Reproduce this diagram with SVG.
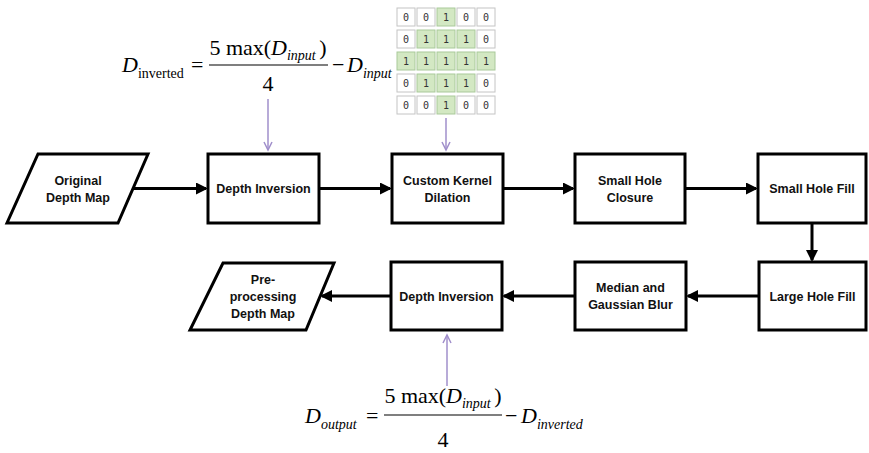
<svg xmlns="http://www.w3.org/2000/svg" width="869" height="453" viewBox="0 0 869 453">
<style>
.box{fill:#fff;stroke:#000;stroke-width:3}
.lbl{font-family:"Liberation Sans",Arial,sans-serif;font-weight:bold;font-size:12.5px;fill:#111;text-anchor:middle}
.conn{stroke:#000;stroke-width:3;fill:none}
.pconn{stroke:#a08fcb;stroke-width:1.5;fill:none}
.m{font-family:"Liberation Serif","Times New Roman",serif;font-size:22px;fill:#000}
.ms{font-size:14px}
.it{font-style:italic}
.cw{fill:#fff;stroke:#c4c4c4;stroke-width:1}
.cg{fill:#d3e8c3;stroke:#a9c99a;stroke-width:1}
.d{font-family:"DejaVu Sans Mono",monospace;font-size:10px;fill:#333;text-anchor:middle}
</style>
<defs>
<marker id="ah" markerUnits="userSpaceOnUse" markerWidth="12" markerHeight="12" refX="10" refY="6" orient="auto">
<path d="M0,0 L12,6 L0,12 z" fill="#000"/>
</marker>
<marker id="pah" markerUnits="userSpaceOnUse" markerWidth="12" markerHeight="12" refX="9" refY="5" orient="auto">
<path d="M1,1 L9,5 L1,9" fill="none" stroke="#a08fcb" stroke-width="1.5"/>
</marker>
</defs>

<g id="connectors">
<line class="conn" x1="133" y1="188.5" x2="206" y2="188.5" marker-end="url(#ah)"/>
<line class="conn" x1="319" y1="188.5" x2="390" y2="188.5" marker-end="url(#ah)"/>
<line class="conn" x1="503" y1="188.5" x2="573" y2="188.5" marker-end="url(#ah)"/>
<line class="conn" x1="685" y1="188.5" x2="756" y2="188.5" marker-end="url(#ah)"/>
<line class="conn" x1="812" y1="223" x2="812" y2="260" marker-end="url(#ah)"/>
<line class="conn" x1="759" y1="296" x2="688" y2="296" marker-end="url(#ah)"/>
<line class="conn" x1="575" y1="296" x2="504" y2="296" marker-end="url(#ah)"/>
<line class="conn" x1="391" y1="296" x2="322" y2="296" marker-end="url(#ah)"/>
<line class="pconn" x1="268" y1="99" x2="268" y2="150" marker-end="url(#pah)"/>
<line class="pconn" x1="446" y1="118" x2="446" y2="150" marker-end="url(#pah)"/>
<line class="pconn" x1="447" y1="386" x2="447" y2="335" marker-end="url(#pah)"/>
</g>

<g id="original">
<polygon class="box" points="38,154 148,154 118,223 7,223"/>
<text class="lbl" x="78" y="184.5">Original</text>
<text class="lbl" x="78" y="201.5">Depth Map</text>
</g>
<g id="depth-inversion-1">
<rect class="box" x="208" y="154" width="111" height="69"/>
<text class="lbl" x="263.5" y="193">Depth Inversion</text>
</g>
<g id="custom-kernel">
<rect class="box" x="392" y="154" width="111" height="69"/>
<text class="lbl" x="447.5" y="184.5">Custom Kernel</text>
<text class="lbl" x="447.5" y="201.5">Dilation</text>
</g>
<g id="small-hole-closure">
<rect class="box" x="575" y="154" width="110" height="69"/>
<text class="lbl" x="630" y="184.5">Small Hole</text>
<text class="lbl" x="630" y="201.5">Closure</text>
</g>
<g id="small-hole-fill">
<rect class="box" x="758" y="154" width="108" height="69"/>
<text class="lbl" x="812" y="193">Small Hole Fill</text>
</g>
<g id="large-hole-fill">
<rect class="box" x="759" y="262" width="107" height="68"/>
<text class="lbl" x="812.5" y="300.5">Large Hole Fill</text>
</g>
<g id="median-gaussian">
<rect class="box" x="575" y="262" width="111" height="68"/>
<text class="lbl" x="630.5" y="292">Median and</text>
<text class="lbl" x="630.5" y="309">Gaussian Blur</text>
</g>
<g id="depth-inversion-2">
<rect class="box" x="391" y="262" width="111" height="68"/>
<text class="lbl" x="446.5" y="300.5">Depth Inversion</text>
</g>
<g id="preprocessing">
<polygon class="box" points="223,263 334,263 306,330 190,330"/>
<text class="lbl" x="263" y="284">Pre-</text>
<text class="lbl" x="263" y="301">processing</text>
<text class="lbl" x="263" y="318">Depth Map</text>
</g>

<g id="formula-top">
<text class="m" x="122" y="72"><tspan class="it">D</tspan><tspan class="ms" dy="6">inverted</tspan></text>
<text class="m" x="191" y="72">=</text>
<text class="m" x="268" y="55" text-anchor="middle">5 max(<tspan class="it">D</tspan><tspan class="it ms" dy="5">input </tspan><tspan dy="-5">)</tspan></text>
<line x1="209" y1="65" x2="328" y2="65" stroke="#000" stroke-width="1.2"/>
<text class="m" x="268" y="91" text-anchor="middle">4</text>
<text class="m" x="332" y="72">−</text>
<text class="m" x="347" y="72"><tspan class="it">D</tspan><tspan class="it ms" dy="6">input</tspan></text>
</g>

<g id="kernel-grid">
<rect class="cw" x="397" y="8" width="18" height="18"/><text class="d" x="406" y="20.5">0</text>
<rect class="cw" x="417" y="8" width="18" height="18"/><text class="d" x="426" y="20.5">0</text>
<rect class="cg" x="437" y="8" width="18" height="18"/><text class="d" x="446" y="20.5">1</text>
<rect class="cw" x="457" y="8" width="18" height="18"/><text class="d" x="466" y="20.5">0</text>
<rect class="cw" x="477" y="8" width="18" height="18"/><text class="d" x="486" y="20.5">0</text>

<rect class="cw" x="397" y="30" width="18" height="18"/><text class="d" x="406" y="42.5">0</text>
<rect class="cg" x="417" y="30" width="18" height="18"/><text class="d" x="426" y="42.5">1</text>
<rect class="cg" x="437" y="30" width="18" height="18"/><text class="d" x="446" y="42.5">1</text>
<rect class="cg" x="457" y="30" width="18" height="18"/><text class="d" x="466" y="42.5">1</text>
<rect class="cw" x="477" y="30" width="18" height="18"/><text class="d" x="486" y="42.5">0</text>

<rect class="cg" x="397" y="52" width="18" height="18"/><text class="d" x="406" y="64.5">1</text>
<rect class="cg" x="417" y="52" width="18" height="18"/><text class="d" x="426" y="64.5">1</text>
<rect class="cg" x="437" y="52" width="18" height="18"/><text class="d" x="446" y="64.5">1</text>
<rect class="cg" x="457" y="52" width="18" height="18"/><text class="d" x="466" y="64.5">1</text>
<rect class="cg" x="477" y="52" width="18" height="18"/><text class="d" x="486" y="64.5">1</text>

<rect class="cw" x="397" y="74" width="18" height="18"/><text class="d" x="406" y="86.5">0</text>
<rect class="cg" x="417" y="74" width="18" height="18"/><text class="d" x="426" y="86.5">1</text>
<rect class="cg" x="437" y="74" width="18" height="18"/><text class="d" x="446" y="86.5">1</text>
<rect class="cg" x="457" y="74" width="18" height="18"/><text class="d" x="466" y="86.5">1</text>
<rect class="cw" x="477" y="74" width="18" height="18"/><text class="d" x="486" y="86.5">0</text>

<rect class="cw" x="397" y="96" width="18" height="18"/><text class="d" x="406" y="108.5">0</text>
<rect class="cw" x="417" y="96" width="18" height="18"/><text class="d" x="426" y="108.5">0</text>
<rect class="cg" x="437" y="96" width="18" height="18"/><text class="d" x="446" y="108.5">1</text>
<rect class="cw" x="457" y="96" width="18" height="18"/><text class="d" x="466" y="108.5">0</text>
<rect class="cw" x="477" y="96" width="18" height="18"/><text class="d" x="486" y="108.5">0</text>
</g>

<g id="formula-bottom">
<text class="m" x="305" y="423"><tspan class="it">D</tspan><tspan class="it ms" dy="6">output</tspan></text>
<text class="m" x="366" y="423">=</text>
<text class="m" x="443" y="403" text-anchor="middle">5 max(<tspan class="it">D</tspan><tspan class="it ms" dy="5">input </tspan><tspan dy="-5">)</tspan></text>
<line x1="384" y1="415" x2="502" y2="415" stroke="#000" stroke-width="1.2"/>
<text class="m" x="443" y="447" text-anchor="middle">4</text>
<text class="m" x="505" y="423">−</text>
<text class="m" x="521" y="423"><tspan class="it">D</tspan><tspan class="it ms" dy="6">inverted</tspan></text>
</g>
</svg>
